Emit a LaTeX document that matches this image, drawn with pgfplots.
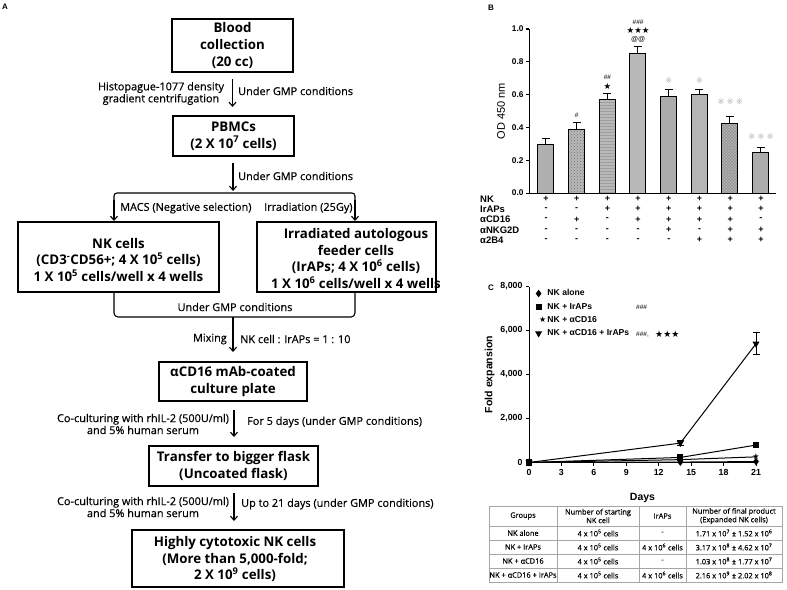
\documentclass[border=0pt]{standalone}
\usepackage{pgfplots}
\pgfplotsset{compat=1.18}
\usepackage{fontspec}
\setmainfont{Liberation Sans}
\newfontfamily\flow{Open Sans}
\newfontfamily\flowm[FakeBold=0.4]{Open Sans}
\newfontfamily\symfont{DejaVu Sans}
\usetikzlibrary{arrows.meta,patterns}

\pgfplotstableread{
x y e
0 0.293 0.040
}\barA
\pgfplotstableread{
x y e
1 0.386 0.044
}\barB
\pgfplotstableread{
x y e
2 0.573 0.035
}\barC
\pgfplotstableread{
x y e
3 0.852 0.040
}\barD
\pgfplotstableread{
x y e
4 0.590 0.044
}\barE
\pgfplotstableread{
x y e
5 0.600 0.034
}\barF
\pgfplotstableread{
x y e
6 0.425 0.040
}\barG
\pgfplotstableread{
x y e
7 0.250 0.028
}\barH

\begin{document}
\begin{tikzpicture}[x=1pt,y=-1pt]
\path[use as bounding box] (0,0) rectangle (787,589);

\tikzset{
  box/.style={line width=1.1pt},
  bt/.style={font=\flow\bfseries\fontsize{13.3}{16.8}\selectfont, inner sep=0pt, align=center},
  sm/.style={font=\flowm\fontsize{10.9}{12}\selectfont, inner sep=0pt, align=center},
  arr/.style={line width=1.1pt, -{Straight Barb[length=4pt,width=7pt]}},
  pm/.style={font=\bfseries\fontsize{9}{9}\selectfont, inner sep=0pt},
  pl/.style={font=\bfseries\fontsize{9.5}{9.5}\selectfont, inner sep=0pt},
  ref/.style={font=\symfont\fontsize{8}{8}\selectfont, text=gray!60, inner sep=0pt},
  st/.style={font=\symfont\fontsize{8.5}{8.5}\selectfont, inner sep=0pt},
}

% ---------------- Panel A ----------------
\node[font=\bfseries\fontsize{8}{9}\selectfont, anchor=west, inner sep=0pt] at (2,7) {A};

\draw[box] (172,19) rectangle (293,72);
\node[bt] at (232.5,45.5) {Blood\\collection\\(20 cc)};
\draw[arr] (232.5,79) -- (232.5,107);
\node[sm] at (161,93.5) {Histopague-1077 density\\gradient centrifugation};
\node[sm, anchor=west] at (238,91) {Under GMP conditions};

\draw[box] (173,116) rectangle (294,156);
\node[bt] at (233.5,136) {PBMCs\\(2 X 10\textsuperscript{7} cells)};
\draw[arr] (233,163) -- (233,191);
\node[sm, anchor=west] at (238,176) {Under GMP conditions};

\draw[line width=1.1pt, rounded corners=3pt] (114,205) -- (114,193) -- (355,193) -- (355,205);
\draw[arr] (114,200) -- (114,221);
\draw[arr] (355,200) -- (355,221);
\node[sm, anchor=west] at (120,208) {MACS (Negative selection)};
\node[sm, anchor=west] at (264,208) {Irradiation (25Gy)};

\draw[box] (18,222) rectangle (219,292);
\node[bt] at (118.5,260) {NK cells\\(CD3\textsuperscript{-}CD56+; 4 X 10\textsuperscript{5} cells)\\1 X 10\textsuperscript{5} cells/well x 4 wells};
\draw[box] (257,222) rectangle (436,292);
\node[bt] at (356,258.5) {Irradiated autologous\\feeder cells\\(IrAPs; 4 X 10\textsuperscript{6} cells)\\1 X 10\textsuperscript{6} cells/well x 4 wells};

\draw[line width=1.1pt, rounded corners=4pt] (114,292) -- (114,317) -- (355,317) -- (355,292);
\node[sm] at (235,307) {Under GMP conditions};
\draw[arr] (233,317) -- (233,352);
\node[sm, anchor=east] at (227,339) {Mixing};
\node[sm, anchor=west] at (240,339) {NK cell : IrAPs = 1 : 10};

\draw[box] (159,362) rectangle (307,401);
\node[bt] at (233,381.5) {αCD16 mAb-coated\\culture plate};
\draw[arr] (234,410) -- (234,437);
\node[sm] at (143,424) {Co-culturing with rhIL-2 (500U/ml)\\and 5\% human serum};
\node[sm, anchor=west] at (247,422) {For 5 days (under GMP conditions)};

\draw[box] (149,446) rectangle (318,486);
\node[bt] at (233.5,466) {Transfer to bigger flask\\(Uncoated flask)};
\draw[arr] (234,493) -- (234,521);
\node[sm] at (143,507) {Co-culturing with rhIL-2 (500U/ml)\\and 5\% human serum};
\node[sm, anchor=west] at (241,504) {Up to 21 days (under GMP conditions)};

\draw[box] (132,530) rectangle (344,587);
\node[bt] at (235,559) {Highly cytotoxic NK cells\\(More than 5,000-fold;\\2 X 10\textsuperscript{9} cells)};

% ---------------- Panel B ----------------
\node[font=\bfseries\fontsize{8}{9}\selectfont, anchor=west, inner sep=0pt] at (488,8) {B};

\begin{axis}[
  at={(529pt,-193pt)}, anchor=south west, scale only axis,
  width=247pt, height=164pt,
  xmin=-0.55, xmax=7.5, ymin=0, ymax=1.0,
  axis x line=bottom, axis y line=left,
  axis line style={-, line width=1pt},
  xtick=\empty, ytick={0,0.2,...,1.0},
  tick align=outside, major tick length=3pt,
  tick style={line width=1pt, black},
  /pgf/number format/assume math mode=true,
  yticklabel style={font=\bfseries\fontsize{8.3}{9}\selectfont, /pgf/number format/fixed, /pgf/number format/fixed zerofill, /pgf/number format/precision=1, xshift=1pt},
  ylabel={OD 450 nm}, ylabel style={font=\fontsize{11}{12}\selectfont, yshift=0pt},
  clip=false,
  every axis plot/.append style={ybar, bar width=16pt, bar shift=0pt, draw=black, line width=1pt,
    error bars/y dir=plus, error bars/y explicit,
    error bars/error bar style={line width=1pt, black},
    error bars/error mark options={rotate=90, mark size=4pt, line width=1pt, black}},
]
\addplot[fill=gray!95!black!60] table[x=x, y=y, y error=e] {\barA};
\addplot[fill=gray!55, postaction={pattern=crosshatch dots, pattern color=black!55}] table[x=x, y=y, y error=e] {\barB};
\addplot[fill=gray!55, postaction={pattern=horizontal lines, pattern color=gray!75}] table[x=x, y=y, y error=e] {\barC};
\addplot[fill=gray!55] table[x=x, y=y, y error=e] {\barD};
\addplot[fill=gray!65] table[x=x, y=y, y error=e] {\barE};
\addplot[fill=gray!58] table[x=x, y=y, y error=e] {\barF};
\addplot[fill=gray!85, postaction={pattern=crosshatch, pattern color=gray!60}] table[x=x, y=y, y error=e] {\barG};
\addplot[fill=gray!65] table[x=x, y=y, y error=e] {\barH};
\end{axis}

% annotations B
\node[font=\fontsize{6.5}{6.5}\selectfont, inner sep=0pt] at (576.7,115) {\#};
\node[font=\fontsize{6.5}{6.5}\selectfont, inner sep=0pt] at (607.4,77) {\#\#};
\node[st] at (607.4,86) {★};
\node[font=\fontsize{6.5}{6.5}\selectfont, inner sep=0pt] at (638.1,22) {\#\#\#};
\node[st] at (638.1,30.5) {★★★};
\node[font=\fontsize{7}{7}\selectfont, inner sep=0pt] at (638.1,39.5) {@@};
\node[ref] at (668.8,81) {※};
\node[ref] at (699.5,81) {※};
\node[ref] at (730.2,102) {※ ※ ※};
\node[ref] at (760.9,137) {※ ※ ※};

% +/- table
\foreach \lab/\yy in {NK/199, IrAPs/209, αCD16/219.5, αNKG2D/230, α2B4/240}{
  \node[pl, anchor=west] at (480,\yy) {\lab};
}
\foreach \yy/\row in {199/{+,+,+,+,+,+,+,+},209/{-,-,+,+,+,+,+,+},219.5/{-,+,-,+,+,+,+,-},230/{-,-,-,-,+,-,+,+},240/{-,-,-,-,-,+,+,+}}{
  \foreach \s [count=\i from 0] in \row {
    \node[pm] at ({546+30.7*\i},\yy) {\s};
  }
}

% ---------------- Panel C ----------------
\node[font=\bfseries\fontsize{8}{9}\selectfont, anchor=west, inner sep=0pt] at (488,288) {C};

\begin{axis}[
  at={(529pt,-462.5pt)}, anchor=south west, scale only axis,
  width=227pt, height=176pt,
  xmin=0, xmax=21, ymin=0, ymax=8000,
  axis lines=left, axis line style={-, line width=1pt},
  xtick={0,3,...,21}, ytick={0,2000,...,8000},
  tick align=outside, major tick length=3pt,
  tick style={line width=1pt, black},
  /pgf/number format/assume math mode=true,
  /pgf/number format/1000 sep={,},
  ticklabel style={font=\bfseries\fontsize{8.8}{9}\selectfont},
  xlabel={Days}, ylabel={Fold expansion},
  label style={font=\bfseries\fontsize{10.5}{12}\selectfont},
  xlabel style={yshift=-11pt}, ylabel style={yshift=-1pt},
  clip=false,
  legend cell align=left,
  legend style={draw=none, fill=none, at={(0.03,0.99)}, anchor=north west,
    font=\bfseries\fontsize{8.6}{10}\selectfont, row sep=3.4pt, inner sep=0pt,
    nodes={inner sep=1.2pt}},
  legend image code/.code={\draw[#1, only marks] plot coordinates {(0.1cm,0cm)};},
  every axis plot/.append style={black, line width=1pt, mark options={solid, fill=black}},
  error bars/error bar style={line width=0.8pt, black},
  error bars/error mark options={rotate=90, mark size=3.5pt, line width=0.8pt, black},
]
\addplot[mark=diamond*, mark size=3pt] coordinates {(0,1) (14,20) (21,43)};
\addlegendentry{NK alone}
\addplot[mark=square*, mark size=2.6pt] coordinates {(0,1) (14,230) (21,792)};
\addlegendentry{NK + IrAPs}
\addplot[mark=text, text mark={\symfont ★}, text mark as node=true, text mark style={font=\fontsize{8}{8}\selectfont, inner sep=0pt}] coordinates {(0,1) (14,130) (21,257)};
\addlegendentry{NK + αCD16}
\addplot[mark=triangle*, mark size=3pt, mark options={rotate=180}, error bars/.cd, y dir=both, y explicit] coordinates {(0,1) +- (0,0) (14,880) +- (0,110) (21,5400) +- (0,505)};
\addlegendentry{NK + αCD16 + IrAPs}
\end{axis}

\node[font=\fontsize{6.5}{6.5}\selectfont, anchor=west, inner sep=0pt] at (636,307.5) {\#\#\#};
\node[font=\fontsize{6.5}{6.5}\selectfont, anchor=west, inner sep=0pt] at (636,334.5) {\#\#\#,};
\node[st, anchor=west, font=\symfont\fontsize{9}{9}\selectfont] at (655,334) {★★★};

% table
\begin{scope}[draw=gray!70, line width=0.5pt]
\draw[line width=0.9pt] (489,506) rectangle (782,582);
\foreach \yy in {526,540,554,568}{ \draw (489,\yy) -- (782,\yy); }
\foreach \xx in {557,639,686}{ \draw (\xx,506) -- (\xx,582); }
\end{scope}
\tikzset{tb/.style={font=\flowm\fontsize{7.4}{8.6}\selectfont, inner sep=0pt, align=center}}
\node[tb] at (523,516) {Groups};
\node[tb] at (598,516) {Number of starting\\NK cell};
\node[tb] at (662.5,516) {IrAPs};
\node[tb] at (734,516) {Number of final product\\(Expanded NK cells)};
\foreach \g/\c/\f [count=\k from 0] in {
  NK alone/-/1.71 x 10\textsuperscript{7} ± 1.52 x 10\textsuperscript{6},
  NK + IrAPs/4 x 10\textsuperscript{6} cells/3.17 x 10\textsuperscript{8} ± 4.62 x 10\textsuperscript{7},
  NK + αCD16/-/1.03 x 10\textsuperscript{8} ± 1.77 x 10\textsuperscript{7},
  NK + αCD16 + IrAPs/4 x 10\textsuperscript{6} cells/2.16 x 10\textsuperscript{9} ± 2.02 x 10\textsuperscript{8}}{
  \node[tb] at (523,{533+14*\k}) {\g};
  \node[tb] at (598,{533+14*\k}) {4 x 10\textsuperscript{5} cells};
  \node[tb] at (662.5,{533+14*\k}) {\c};
  \node[tb] at (734,{533+14*\k}) {\f};
}
\end{tikzpicture}
\end{document}
